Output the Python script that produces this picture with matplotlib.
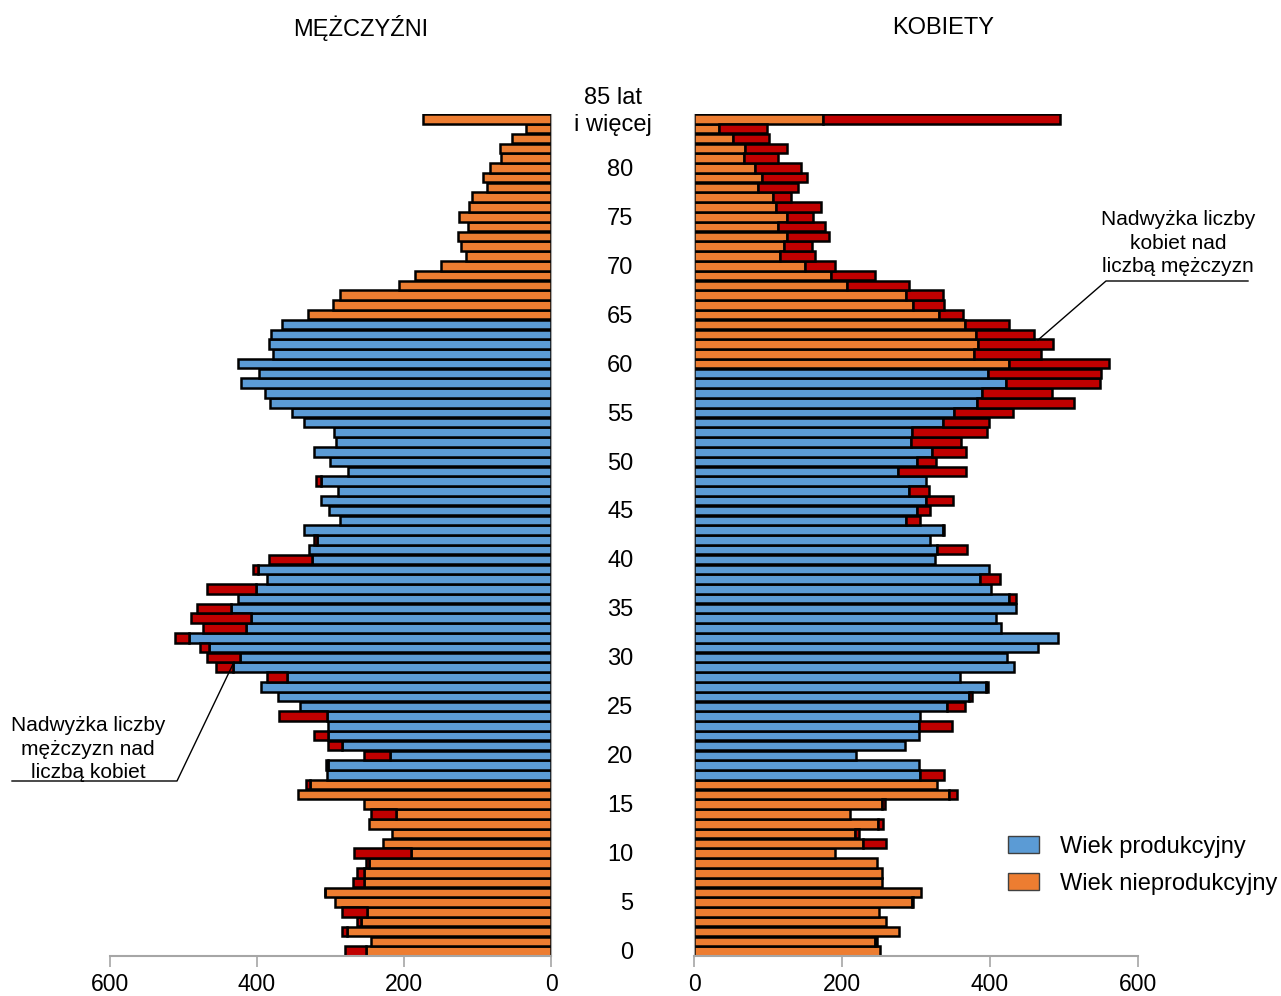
import numpy as np
import matplotlib.pyplot as plt
from matplotlib.patches import Patch
from matplotlib.lines import Line2D

plt.rcParams['font.family'] = ['Liberation Sans', 'DejaVu Sans']

# population by single year of age (0 .. 85+)
men = [280, 245, 285, 264, 285, 294, 308, 270, 264, 252,
       268, 229, 217, 248, 245, 254, 344, 334, 305, 306,
       254, 303, 322, 304, 370, 342, 372, 395, 386, 456,
       468, 478, 512, 473, 490, 482, 426, 468, 386, 405,
       384, 329, 323, 336, 287, 302, 313, 290, 320, 276,
       301, 322, 293, 295, 336, 352, 382, 389, 422, 397,
       426, 378, 384, 381, 366, 331, 296, 287, 207, 185,
       150, 116, 122, 126, 113, 125, 111, 107, 87, 92,
       83, 68, 69, 53, 34, 174]
women = [252, 247, 277, 259, 250, 296, 307, 254, 254, 247,
         191, 260, 223, 255, 211, 258, 355, 328, 338, 304,
         219, 285, 304, 349, 305, 366, 376, 397, 359, 433,
         423, 465, 492, 415, 408, 435, 435, 401, 414, 399,
         325, 369, 319, 338, 305, 319, 350, 318, 313, 368,
         327, 367, 361, 396, 398, 431, 513, 484, 549, 550,
         561, 469, 485, 460, 425, 363, 338, 337, 291, 244,
         191, 163, 160, 183, 177, 161, 171, 131, 140, 153,
         144, 114, 126, 101, 99, 495]
age_ticks = list(range(0, 85, 5))
men_working = (18, 64)
women_working = (18, 59)

blue = '#5B9BD5'
orange = '#ED7D31'
red = '#C00000'
grey = '#A6A6A6'

W, H = 1281, 996
ages = np.arange(len(men))
men = np.array(men)
women = np.array(women)
base = np.minimum(men, women)
men_col = [blue if men_working[0] <= a <= men_working[1] else orange for a in ages]
women_col = [blue if women_working[0] <= a <= women_working[1] else orange for a in ages]

fig = plt.figure(figsize=(W / 100, H / 100), dpi=100)
axL = fig.add_axes([110 / W, 40 / H, 441 / W, 842 / H])
axR = fig.add_axes([694 / W, 40 / H, 444 / W, 842 / H])

bar_kw = dict(height=0.97, edgecolor='black', linewidth=1.8)

axL.barh(ages, base, color=men_col, **bar_kw)
m = men > women
axL.barh(ages[m], (men - base)[m], left=base[m], color=red, **bar_kw)

axR.barh(ages, base, color=women_col, **bar_kw)
w = women > men
axR.barh(ages[w], (women - base)[w], left=base[w], color=red, **bar_kw)

axL.set_xlim(600, 0)
axR.set_xlim(0, 600)
for ax in (axL, axR):
    ax.set_ylim(-0.5, 85.5)
    ax.set_yticks([])
    ax.set_xticks([0, 200, 400, 600])
    ax.tick_params(axis='x', direction='out', length=8, width=1.2, color=grey,
                   labelsize=16.5, pad=4)
    for s in ['top', 'left', 'right']:
        ax.spines[s].set_visible(False)
    ax.spines['bottom'].set_color(grey)
    ax.spines['bottom'].set_linewidth(1.5)
axL.spines['right'].set_visible(True)
axL.spines['right'].set_color(grey)
axR.spines['left'].set_visible(True)
axR.spines['left'].set_color(grey)

# age labels in the gap between the halves
for a in age_ticks:
    axR.text(-82, a - 0.2, str(a), ha='right', va='center', fontsize=17, clip_on=False)
axR.text(-109, 85.75, '85 lat\ni więcej', ha='center', va='center', fontsize=17,
         linespacing=1.25, clip_on=False)

fig.text(361 / W, 1 - 28 / H, 'MĘŻCZYŹNI', ha='center', va='center', fontsize=17)
fig.text(943 / W, 1 - 28 / H, 'KOBIETY', ha='center', va='center', fontsize=17)

# annotations
fig.text(1178 / W, 1 - 243 / H, 'Nadwyżka liczby\nkobiet nad\nliczbą mężczyzn',
         ha='center', va='center', fontsize=15, linespacing=1.32)
fig.add_artist(Line2D(np.array([1248, 1106, 1038]) / W,
                      1 - np.array([281, 281, 340]) / H, color='black', lw=1))
fig.text(88 / W, 1 - 749 / H, 'Nadwyżka liczby\nmężczyzn nad\nliczbą kobiet',
         ha='center', va='center', fontsize=15, linespacing=1.32)
fig.add_artist(Line2D(np.array([12, 177, 234]) / W,
                      1 - np.array([781, 781, 662]) / H, color='black', lw=1))

handles = [Patch(facecolor=blue, edgecolor='#404040', lw=1),
           Patch(facecolor=orange, edgecolor='#404040', lw=1)]
fig.legend(handles, ['Wiek produkcyjny', 'Wiek nieprodukcyjny'],
           loc='upper left', bbox_to_anchor=(1008 / W, 1 - 836 / H),
           frameon=False, fontsize=17, handlelength=1.3, handleheight=0.72,
           handletextpad=0.9, labelspacing=0.62, borderpad=0, borderaxespad=0)

fig.savefig('out.png', dpi=100)
